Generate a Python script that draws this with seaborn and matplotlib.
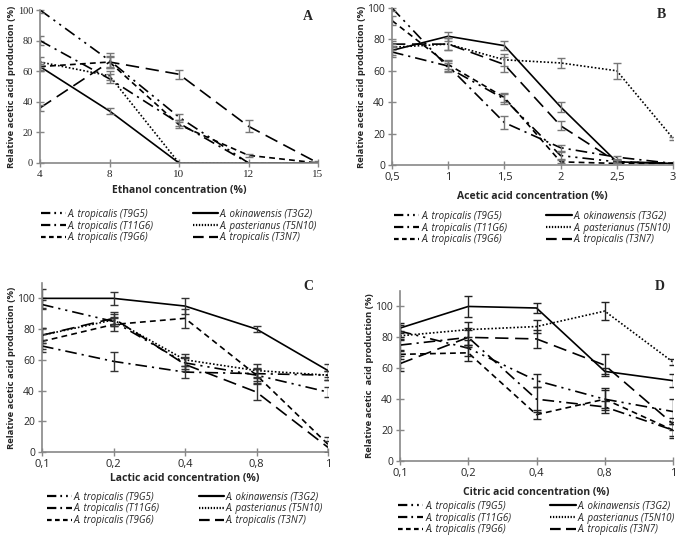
import numpy as np
import pandas as pd
import matplotlib
matplotlib.use("Agg")
import matplotlib.pyplot as plt
import seaborn as sns
from matplotlib.lines import Line2D

sns.set_style("ticks")

# strains, in legend order (column-wise)
strains = ["A. tropicalis (T9G5)", "A. tropicalis (T11G6)", "A. tropicalis (T9G6)",
           "A. okinawensis (T3G2)", "A. pasterianus (T5N10)", "A. tropicalis (T3N7)"]

# panel A - ethanol
ethanol_labels = ["4", "8", "10", "12", "15"]
ethanol_vals = {
    "A. tropicalis (T9G5)": [100, 67, 30, 0, 0],
    "A. tropicalis (T11G6)": [80, 55, 26, 0, 0],
    "A. tropicalis (T9G6)": [63, 66, 25, 5, 0],
    "A. okinawensis (T3G2)": [63, 34, 0, 0, 0],
    "A. pasterianus (T5N10)": [66, 57, 0, 0, 0],
    "A. tropicalis (T3N7)": [36, 66, 58, 24, 0],
}
ethanol_err = {
    "A. tropicalis (T9G5)": [2, 5, 2, 0, 0],
    "A. tropicalis (T11G6)": [3, 3, 2, 0, 0],
    "A. tropicalis (T9G6)": [3, 3, 2, 1, 0],
    "A. okinawensis (T3G2)": [2, 2, 0, 0, 0],
    "A. pasterianus (T5N10)": [3, 3, 0, 0, 0],
    "A. tropicalis (T3N7)": [2, 4, 3, 4, 1],
}

# panel B - acetic acid
acetic_labels = ["0,5", "1", "1,5", "2", "2,5", "3"]
acetic_vals = {
    "A. tropicalis (T9G5)": [100, 62, 42, 6, 2, 1],
    "A. tropicalis (T11G6)": [72, 63, 27, 11, 5, 1],
    "A. tropicalis (T9G6)": [92, 64, 43, 2, 1, 1],
    "A. okinawensis (T3G2)": [73, 82, 76, 37, 2, 1],
    "A. pasterianus (T5N10)": [75, 77, 67, 65, 60, 17],
    "A. tropicalis (T3N7)": [77, 77, 64, 25, 2, 1],
}
acetic_err = {
    "A. tropicalis (T9G5)": [2, 3, 3, 2, 1, 0],
    "A. tropicalis (T11G6)": [3, 3, 4, 2, 1, 0],
    "A. tropicalis (T9G6)": [3, 3, 3, 1, 0, 0],
    "A. okinawensis (T3G2)": [3, 3, 3, 3, 1, 0],
    "A. pasterianus (T5N10)": [2, 4, 4, 3, 5, 1],
    "A. tropicalis (T3N7)": [2, 4, 5, 3, 1, 0],
}

# panel C - lactic acid
lactic_labels = ["0,1", "0,2", "0,4", "0,8", "1"]
lactic_vals = {
    "A. tropicalis (T9G5)": [96, 85, 58, 50, 39],
    "A. tropicalis (T11G6)": [69, 59, 52, 51, 50],
    "A. tropicalis (T9G6)": [72, 83, 87, 50, 5],
    "A. okinawensis (T3G2)": [100, 100, 95, 80, 53],
    "A. pasterianus (T5N10)": [76, 86, 60, 53, 50],
    "A. tropicalis (T3N7)": [76, 87, 57, 39, 3],
}
lactic_err = {
    "A. tropicalis (T9G5)": [3, 3, 4, 4, 3],
    "A. tropicalis (T11G6)": [4, 6, 4, 3, 3],
    "A. tropicalis (T9G6)": [5, 4, 6, 5, 5],
    "A. okinawensis (T3G2)": [6, 4, 5, 2, 4],
    "A. pasterianus (T5N10)": [5, 4, 4, 4, 3],
    "A. tropicalis (T3N7)": [5, 4, 4, 5, 4],
}

# panel D - citric acid
citric_labels = ["0,1", "0,2", "0,4", "0,8", "1"]
citric_vals = {
    "A. tropicalis (T9G5)": [84, 73, 52, 40, 32],
    "A. tropicalis (T11G6)": [75, 80, 40, 35, 20],
    "A. tropicalis (T9G6)": [69, 70, 30, 40, 20],
    "A. okinawensis (T3G2)": [86, 100, 99, 58, 52],
    "A. pasterianus (T5N10)": [81, 85, 87, 97, 64],
    "A. tropicalis (T3N7)": [63, 80, 79, 62, 24],
}
citric_err = {
    "A. tropicalis (T9G5)": [4, 5, 4, 6, 8],
    "A. tropicalis (T11G6)": [4, 6, 8, 4, 4],
    "A. tropicalis (T9G6)": [3, 5, 3, 7, 5],
    "A. okinawensis (T3G2)": [3, 7, 3, 2, 4],
    "A. pasterianus (T5N10)": [3, 5, 4, 6, 2],
    "A. tropicalis (T3N7)": [5, 5, 6, 7, 4],
}

dashes = {
    "A. tropicalis (T9G5)": (7, 3, 1.3, 3, 1.3, 3),
    "A. tropicalis (T11G6)": (7, 3, 1.3, 3),
    "A. tropicalis (T9G6)": (3.5, 2.5),
    "A. okinawensis (T3G2)": "",
    "A. pasterianus (T5N10)": (1, 1.2),
    "A. tropicalis (T3N7)": (8, 4),
}

serif = "Liberation Serif"
sans = "Open Sans"


def legend_handle(d):
    if d == "":
        return Line2D([0], [0], color="black", lw=1.6)
    small = tuple(v * 0.6 for v in d)
    return Line2D([0], [0], color="black", lw=1.6, linestyle=(0, small))


def panel(rect, labels, vals, errs, xlabel, ylabel, letter, ymax, err_color,
          tick_font, letter_pos, xlabel_y, legend_y):
    ax = fig.add_axes(rect)
    rows = []
    for s in strains:
        for i, v in enumerate(vals[s]):
            rows.append({"pos": i, "val": v, "strain": s})
    df = pd.DataFrame(rows)
    sns.lineplot(data=df, x="pos", y="val", style="strain", style_order=strains,
                 dashes=dashes, color="black", linewidth=1.2, ax=ax,
                 legend=False, errorbar=None)
    for s in strains:
        x = np.arange(len(labels))
        y = np.array(vals[s])
        e = np.array(errs[s])
        m = e > 0
        ax.errorbar(x[m], y[m], yerr=e[m], fmt="none", ecolor=err_color,
                    elinewidth=1.0, capsize=3, capthick=1.0)
    ax.set_xlim(0, len(labels) - 1)
    ax.set_ylim(0, ymax)
    ax.set_xticks(range(len(labels)))
    ax.set_xticklabels(labels, fontfamily=tick_font, fontsize=8)
    ax.set_yticks([0, 20, 40, 60, 80, 100])
    ax.set_yticklabels(["0", "20", "40", "60", "80", "100"],
                       fontfamily=tick_font, fontsize=7.5)
    ax.tick_params(direction="inout", length=6, color="#888888", width=1,
                   pad=2)
    for sp in ["top", "right"]:
        ax.spines[sp].set_visible(False)
    for sp in ["left", "bottom"]:
        ax.spines[sp].set_color("#888888")
        ax.spines[sp].set_linewidth(1.2)
    ax.set_xlabel("")
    ax.set_ylabel(ylabel, fontfamily=sans, fontweight="bold", fontsize=6.8,
                  labelpad=1)
    cx = rect[0] + rect[2] / 2
    fig.text(cx, xlabel_y, xlabel, ha="center", va="center",
             fontfamily=sans, fontweight="bold", fontsize=7.5)
    fig.text(letter_pos[0], letter_pos[1], letter, ha="center", va="center",
             fontfamily=serif, fontweight="bold", fontsize=10)
    handles = [legend_handle(dashes[s]) for s in strains]
    fig.legend(handles, strains, loc="center", ncol=2,
               bbox_to_anchor=(cx, legend_y), frameon=False,
               handlelength=2.6, handletextpad=0.2, columnspacing=4,
               labelspacing=0.1,
               prop={"family": sans, "style": "italic", "size": 7})
    return ax


fig = plt.figure(figsize=(6.77, 5.4), dpi=100)

panel([40 / 677, 1 - 163 / 540, 278 / 677, 153 / 540], ethanol_labels,
      ethanol_vals, ethanol_err, "Ethanol concentration (%)",
      "Relative acetic acid production (%)", "A", 100, "#777777", serif,
      (308 / 677, 1 - 16 / 540), 1 - 191 / 540, 1 - 226 / 540)

panel([392 / 677, 1 - 165 / 540, 281 / 677, 157 / 540], acetic_labels,
      acetic_vals, acetic_err, "Acetic acid concentration (%)",
      "Relative acetic acid production (%)", "B", 100, "#777777", sans,
      (661 / 677, 1 - 15 / 540), 1 - 196 / 540, 1 - 228 / 540)

panel([42 / 677, 1 - 452 / 540, 286 / 677, 169 / 540], lactic_labels,
      lactic_vals, lactic_err, "Lactic acid concentration (%)",
      "Relative acetic acid production (%)", "C", 110, "#333333", sans,
      (308 / 677, 1 - 287 / 540), 1 - 479 / 540, 1 - 509 / 540)

panel([400 / 677, 1 - 461 / 540, 273 / 677, 170 / 540], citric_labels,
      citric_vals, citric_err, "Citric acid concentration (%)",
      "Relative acetic  acid production (%)", "D", 110, "#222222", sans,
      (660 / 677, 1 - 287 / 540), 1 - 493 / 540, 1 - 518 / 540)

fig.savefig("out.png", dpi=100)
